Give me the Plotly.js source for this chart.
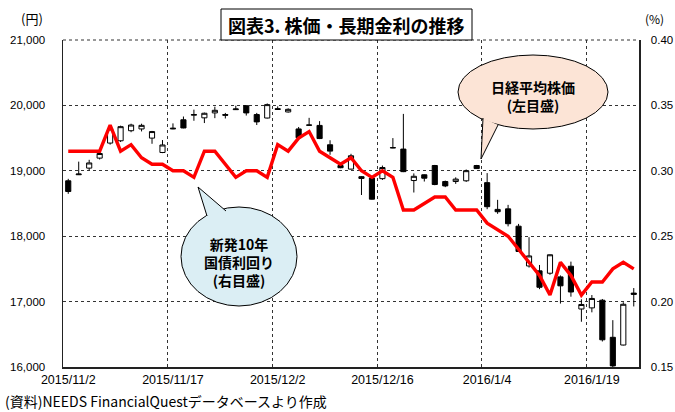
<!DOCTYPE html>
<html><head><meta charset="utf-8">
<script src="https://cdn.plot.ly/plotly-3.0.1.min.js"></script>
<style>html,body{margin:0;padding:0;background:#fff}</style>
</head><body><div id="chart" style="width:675px;height:412px"></div>
<script>
// ---- data ----
const dates = ['2015/11/2','2015/11/4','2015/11/5','2015/11/6','2015/11/9','2015/11/10','2015/11/11','2015/11/12','2015/11/13','2015/11/16',
 '2015/11/17','2015/11/18','2015/11/19','2015/11/20','2015/11/24','2015/11/25','2015/11/26','2015/11/27','2015/11/30','2015/12/1',
 '2015/12/2','2015/12/3','2015/12/4','2015/12/7','2015/12/8','2015/12/9','2015/12/10','2015/12/11','2015/12/14','2015/12/15',
 '2015/12/16','2015/12/17','2015/12/18','2015/12/21','2015/12/22','2015/12/24','2015/12/25','2015/12/28','2015/12/29','2015/12/30',
 '2016/1/4','2016/1/5','2016/1/6','2016/1/7','2016/1/8','2016/1/12','2016/1/13','2016/1/14','2016/1/15','2016/1/18',
 '2016/1/19','2016/1/20','2016/1/21','2016/1/22','2016/1/25'];
const openPx  = [18847,18940,19041,19194,19424,19459,19613,19640,19500,19280,
 19640,19780,19850,19810,19885,19860,19935,19995,19860,19807,
 19950,19900,19640,19700,19694,19398,19080,19026,18910,18888,
 18880,19350,19332,18851,18939,19081,18836,18836,18847,19081,
 18819,18410,18418,18153,17545,17470,17434,17378,17541,16887,
 16904,17021,16454,16336,17130];
const highPx  = [18877,19140,19168,19286,19665,19690,19720,19720,19610,19470,
 19725,19830,19935,19890,19980,19885,19995,20000,19885,20030,
 19985,19955,19670,19810,19760,19467,19110,19260,18920,18900,
 19080,19500,19870,18960,18945,19090,18850,18900,19020,19090,
 18965,18556,18479,18188,17985,17560,17720,17400,17611,17035,
 17100,17040,16716,16990,17207];
const lowPx   = [18648,18935,19011,19173,19400,19440,19590,19602,19413,19270,
 19635,19650,19765,19730,19805,19800,19930,19845,19700,19800,
 19930,19890,19490,19690,19485,19245,19040,19020,18630,18560,
 18860,19345,18980,18668,18836,18780,18750,18800,18830,19030,
 18413,18342,18150,17764,17520,17190,17410,16970,17075,16692,
 16836,16390,15950,16330,16926];
const closePx = [18683,18950,19120,19265,19640,19675,19700,19695,19600,19395,
 19650,19655,19860,19880,19925,19850,19945,19885,19748,20012,
 19938,19940,19505,19698,19493,19301,19047,19230,18883,18566,
 19050,19354,18987,18916,18887,18790,18769,18873,19002,19034,
 18451,18374,18191,17767,17698,17219,17716,17241,17147,16956,
 17048,16416,16017,16959,17111];
const jgb10y  = [0.315,0.315,0.315,0.315,0.335,0.315,0.32,0.31,0.305,0.305,
 0.30,0.30,0.295,0.315,0.315,0.305,0.295,0.30,0.30,0.295,
 0.32,0.315,0.325,0.33,0.315,0.31,0.305,0.31,0.30,0.295,
 0.30,0.295,0.27,0.27,0.275,0.28,0.28,0.27,0.27,0.27,
 0.26,0.255,0.25,0.24,0.23,0.22,0.205,0.23,0.22,0.205,
 0.215,0.215,0.225,0.23,0.225];
const tickLabels = ['2015/11/2','2015/11/17','2015/12/2','2015/12/16','2016/1/4','2016/1/19'];

// ---- layout helpers (pixel -> paper) ----
const W = 675, H = 412, ML = 63, MR = 36, MT = 40, MB = 45;
const PW = W - ML - MR, PH = H - MT - MB;
const px = x => (x - ML) / PW;
const py = y => (H - MB - y) / PH;

const idx = dates.map((d, i) => i);
const tickIdx = tickLabels.map(t => dates.indexOf(t));
const gridIdx = tickIdx.slice(1).map(i => i - 0.5);

const FONT = '"Liberation Sans", "Noto Sans CJK JP", sans-serif';
const JFONT = '"Noto Sans CJK JP", sans-serif';

const traces = [
  {
    type: 'candlestick', x: idx, open: openPx, high: highPx, low: lowPx, close: closePx,
    increasing: {line: {color: '#000', width: 1}, fillcolor: '#fff'},
    decreasing: {line: {color: '#000', width: 1}, fillcolor: '#000'},
    whiskerwidth: 0, showlegend: false, hoverinfo: 'skip', yaxis: 'y'
  },
  {
    type: 'scatter', mode: 'lines', x: idx, y: jgb10y, yaxis: 'y2',
    line: {color: '#ff0000', width: 3.4}, showlegend: false, hoverinfo: 'skip'
  }
];

const gridStyle = {gridcolor: '#333', griddash: 'dot', gridwidth: 1};

const layout = {
  width: W, height: H,
  margin: {l: ML, r: MR, t: MT, b: MB},
  paper_bgcolor: '#fff', plot_bgcolor: '#fff',
  font: {family: FONT, size: 12, color: '#000'},
  showlegend: false,
  xaxis: {
    type: 'linear', range: [-0.5, idx.length - 0.5],
    tickmode: 'array', tickvals: tickIdx, ticktext: tickLabels,
    showgrid: false, zeroline: false, ticks: '',
    minor: Object.assign({tickmode: 'array', tickvals: gridIdx, showgrid: true, ticks: ''}, gridStyle),
    showline: true, linecolor: '#222', linewidth: 1.5,
    rangeslider: {visible: false}, fixedrange: true,
    tickfont: {size: 12.5, family: FONT}
  },
  yaxis: {
    range: [16000, 21000], dtick: 1000, tick0: 16000, tickformat: ',d',
    showgrid: true, gridcolor: '#333', griddash: 'dot', gridwidth: 1,
    zeroline: false, ticks: '', ticklabelstandoff: 14,
    showline: true, linecolor: '#222', linewidth: 1.5, fixedrange: true,
    tickfont: {size: 11.5, family: FONT}
  },
  yaxis2: {
    overlaying: 'y', side: 'right', range: [0.15, 0.40], dtick: 0.05, tick0: 0.15, tickformat: '.2f',
    showgrid: false, zeroline: false, ticks: '', ticklabelstandoff: 8,
    showline: true, linecolor: '#222', linewidth: 1.5, fixedrange: true,
    tickfont: {size: 11.5, family: FONT}
  },
  shapes: [
    {type: 'line', xref: 'paper', yref: 'paper', x0: 0, x1: 1, y0: 1, y1: 1, line: {color: '#333', width: 1, dash: 'dot'}},
    {type: 'rect', xref: 'paper', yref: 'paper', x0: px(221), x1: px(472), y0: py(40), y1: py(9),
     fillcolor: '#fff', line: {color: '#000', width: 1}},
    {type: 'circle', xref: 'paper', yref: 'paper', x0: px(458), x1: px(608), y0: py(129), y1: py(55),
     fillcolor: '#fce4d6', line: {color: '#000', width: 1}},
    {type: 'path', xref: 'paper', yref: 'paper',
     path: `M ${px(483)} ${py(118)} L ${px(481)} ${py(159)} L ${px(498)} ${py(125)}`,
     fillcolor: '#fce4d6', line: {color: '#000', width: 1}},
    {type: 'circle', xref: 'paper', yref: 'paper', x0: px(181), x1: px(297), y0: py(306), y1: py(207),
     fillcolor: '#dbeef4', line: {color: '#000', width: 1}},
    {type: 'path', xref: 'paper', yref: 'paper',
     path: `M ${px(207)} ${py(216)} L ${px(198)} ${py(187)} L ${px(226)} ${py(211)}`,
     fillcolor: '#dbeef4', line: {color: '#000', width: 1}}
  ],
  annotations: [
    {xref: 'paper', yref: 'paper', x: px(346.5), y: py(24.5), xanchor: 'center', yanchor: 'middle',
     text: '<b>図表3. 株価・長期金利の推移</b>', showarrow: false, font: {size: 18, family: JFONT, color: '#000'}},
    {xref: 'paper', yref: 'paper', x: px(32), y: py(18), xanchor: 'center', yanchor: 'middle',
     text: '(円)', showarrow: false, font: {size: 13, family: JFONT}},
    {xref: 'paper', yref: 'paper', x: px(654), y: py(18), xanchor: 'center', yanchor: 'middle',
     text: '(%)', showarrow: false, font: {size: 12, family: JFONT}},
    {xref: 'paper', yref: 'paper', x: px(533), y: py(96), xanchor: 'center', yanchor: 'middle',
     text: '<b>日経平均株価<br>(左目盛)</b>', showarrow: false, font: {size: 14, family: JFONT}},
    {xref: 'paper', yref: 'paper', x: px(239), y: py(262), xanchor: 'center', yanchor: 'middle',
     text: '<b>新発10年<br>国債利回り<br>(右目盛)</b>', showarrow: false, font: {size: 14, family: JFONT}},
    {xref: 'paper', yref: 'paper', x: px(3), y: py(401), xanchor: 'left', yanchor: 'middle',
     text: '(資料)NEEDS FinancialQuestデータベースより作成', showarrow: false, font: {size: 14, family: JFONT}}
  ]
};

Plotly.newPlot('chart', traces, layout, {staticPlot: true, displayModeBar: false});
</script>
</body></html>
